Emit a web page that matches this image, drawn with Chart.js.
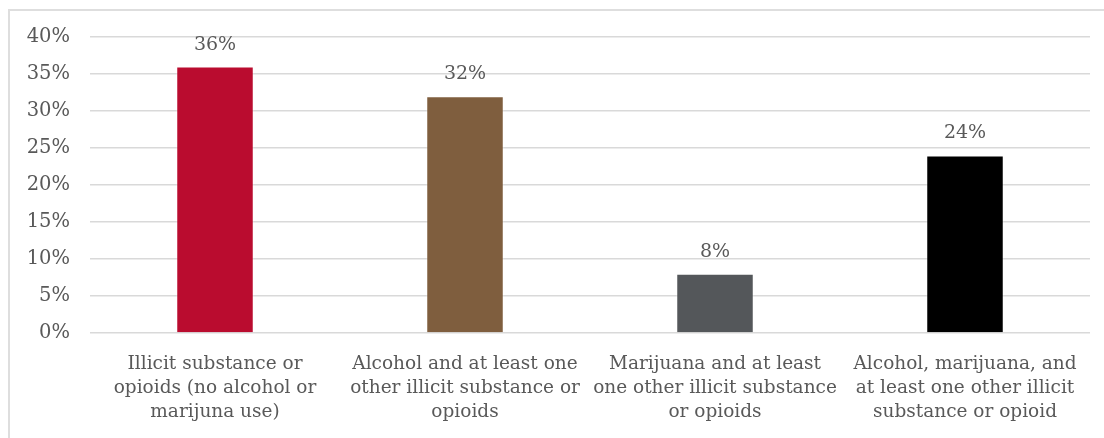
<!DOCTYPE html>
<html>
<head>
<meta charset="utf-8">
<script src="https://cdn.jsdelivr.net/npm/chart.js@4.4.1/dist/chart.umd.min.js"></script>
<style>
    html, body { margin: 0; padding: 0; background: #fff; }
    #frame { position: absolute; left: 8px; top: 9px; width: 1200px; height: 600px; border-left: 2px solid #dedede; border-top: 2px solid #dedede; }
    #wrap { position: absolute; left: 0; top: 0; width: 1104px; height: 438px; }
</style>
</head>
<body>
<div id="frame"></div>
<div id="wrap"><canvas id="chart"></canvas></div>
<script>
// ---- data ----
const categories = [
    ['Illicit substance or', 'opioids (no alcohol or', 'marijuna use)'],
    ['Alcohol and at least one', 'other illicit substance or', 'opioids'],
    ['Marijuana and at least', 'one other illicit substance', 'or opioids'],
    ['Alcohol, marijuana, and', 'at least one other illicit', 'substance or opioid']
];
const shares = [36, 32, 8, 24];
const yMin = 0;
const yMax = 40;
const yStep = 5;

const barColors = ['#BA0C2F', '#7F5E3E', '#54575A', '#000000'];
const textColor = '#595959';
const fontFamily = '"DejaVu Serif", serif';

// value labels above each bar
const valueLabels = {
    id: 'valueLabels',
    afterDatasetsDraw(chart) {
        const ctx = chart.ctx;
        const meta = chart.getDatasetMeta(0);
        ctx.save();
        ctx.fillStyle = textColor;
        ctx.font = '19px ' + fontFamily;
        ctx.textAlign = 'center';
        ctx.textBaseline = 'middle';
        meta.data.forEach((bar, i) => {
            ctx.fillText(shares[i] + '%', bar.x, bar.y - 22);
        });
        ctx.restore();
    }
};

new Chart(document.getElementById('chart'), {
    type: 'bar',
    data: {
        labels: categories,
        datasets: [{
            data: shares,
            backgroundColor: barColors,
            borderColor: 'rgba(255,255,255,0.35)',
            borderWidth: 1,
            categoryPercentage: 1,
            barPercentage: 0.31
        }]
    },
    options: {
        responsive: true,
        maintainAspectRatio: false,
        animation: false,
        layout: { padding: { left: 0, right: 14, top: 37, bottom: 0 } },
        plugins: { legend: { display: false }, tooltip: { enabled: false } },
        scales: {
            x: {
                afterFit(scale) { scale.height = 105; },
                grid: { display: false },
                border: { display: false },
                ticks: {
                    color: textColor,
                    font: { family: fontFamily, size: 18.5, lineHeight: 1.3 },
                    maxRotation: 0,
                    autoSkip: false,
                    padding: 11
                }
            },
            y: {
                min: yMin,
                max: yMax,
                afterFit(scale) { scale.width = 90; },
                grid: { color: '#d9d9d9', lineWidth: 1.5, drawTicks: false },
                border: { display: false },
                ticks: {
                    stepSize: yStep,
                    color: textColor,
                    font: { family: fontFamily, size: 19.5 },
                    padding: 20,
                    callback: v => v + '%'
                }
            }
        }
    },
    plugins: [valueLabels]
});
</script>
</body>
</html>
